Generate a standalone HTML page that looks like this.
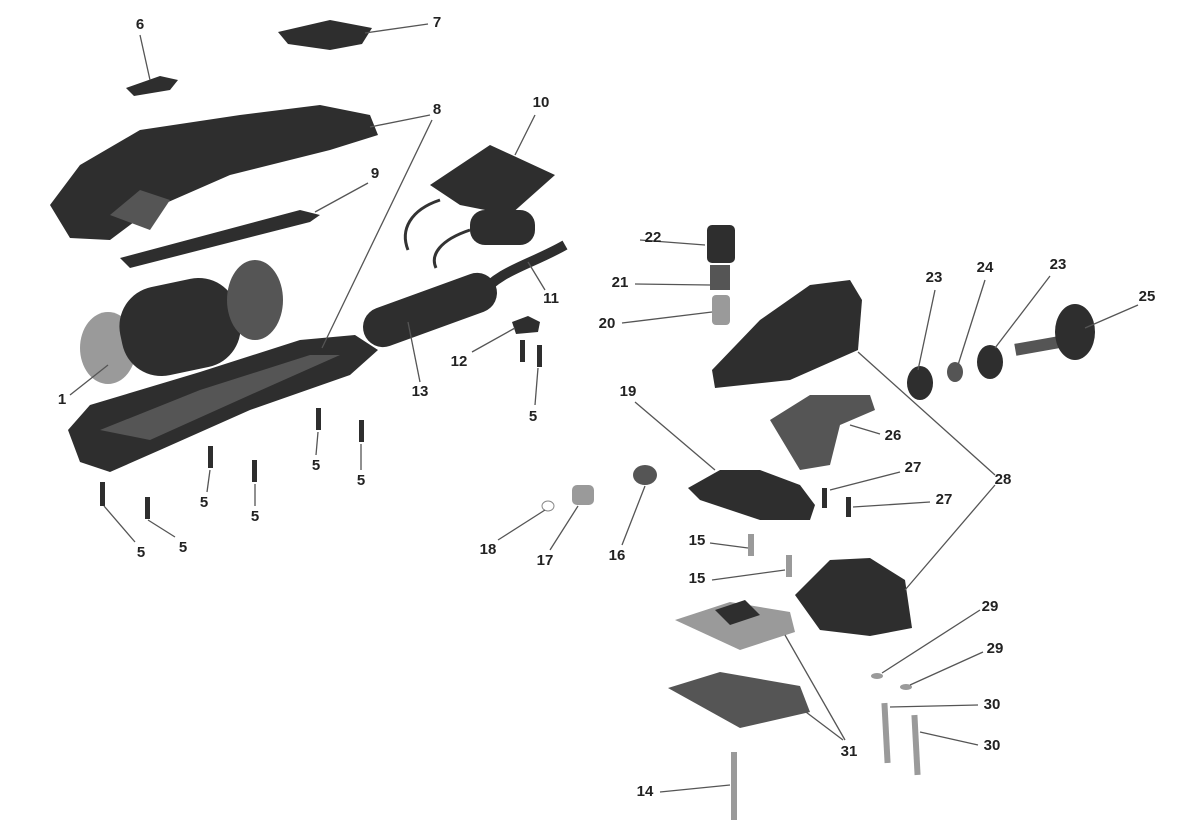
<!DOCTYPE html>
<html><head><meta charset="utf-8"><style>
html,body{margin:0;padding:0;background:#fff;}
svg{display:block}
text{font-family:"Liberation Sans",sans-serif;font-weight:bold;font-size:15px;fill:#222;text-anchor:middle;dominant-baseline:middle}
.l{stroke:#555;stroke-width:1.3;fill:none}
.d{fill:#2e2e2e}
.m{fill:#555}
.g{fill:#9a9a9a}
</style></head><body>
<svg width="1199" height="834" viewBox="0 0 1199 834" xmlns="http://www.w3.org/2000/svg">
<polygon class="d" points="126,88 160,76 178,80 170,90 134,96"/>
<polygon class="d" points="278,32 330,20 372,28 362,44 330,50 288,44"/>
<polygon class="d" points="50,205 80,165 140,130 240,115 320,105 370,115 378,135 330,150 230,175 150,210 110,240 70,238"/>
<polygon class="m" points="110,215 140,190 170,200 150,230"/>
<polygon class="d" points="120,258 300,210 320,215 310,222 130,268"/>
<polygon class="d" points="430,185 490,145 555,175 510,215 460,205"/>
<rect class="d" x="470" y="210" width="65" height="35" rx="15"/>
<path d="M440,200 C410,210 400,230 408,250" style="stroke:#333;stroke-width:3;fill:none"/>
<path d="M470,230 C440,240 430,255 436,268" style="stroke:#333;stroke-width:3;fill:none"/>
<path d="M480,295 C500,270 530,265 565,245" style="stroke:#2e2e2e;stroke-width:10;fill:none"/>
<ellipse class="g" cx="108" cy="348" rx="28" ry="36"/>
<rect class="d" x="120" y="282" width="120" height="90" rx="40" transform="rotate(-12 180 327)"/>
<ellipse class="m" cx="255" cy="300" rx="28" ry="40"/>
<rect class="d" x="360" y="290" width="140" height="40" rx="20" transform="rotate(-20 430 310)"/>
<polygon class="d" points="68,430 90,405 200,372 300,340 355,335 378,350 350,375 250,410 160,450 110,472 80,462"/>
<polygon class="m" points="100,430 200,390 310,355 340,355 250,395 150,440"/>
<g class="d">
<rect x="316" y="408" width="5" height="22"/><rect x="359" y="420" width="5" height="22"/>
<rect x="208" y="446" width="5" height="22"/><rect x="252" y="460" width="5" height="22"/>
<rect x="100" y="482" width="5" height="24"/><rect x="145" y="497" width="5" height="22"/>
<rect x="520" y="340" width="5" height="22"/><rect x="537" y="345" width="5" height="22"/>
</g>
<polygon class="d" points="512,322 528,316 540,322 538,332 516,334"/>
<rect class="d" x="707" y="225" width="28" height="38" rx="5"/>
<rect class="m" x="710" y="265" width="20" height="25"/>
<rect class="g" x="712" y="295" width="18" height="30" rx="4"/>
<polygon class="d" points="712,370 760,320 810,285 850,280 862,300 858,350 790,380 715,388"/>
<ellipse class="d" cx="920" cy="383" rx="13" ry="17"/>
<ellipse class="m" cx="955" cy="372" rx="8" ry="10"/>
<ellipse class="d" cx="990" cy="362" rx="13" ry="17"/>
<rect class="m" x="1015" y="340" width="45" height="12" transform="rotate(-10 1037 346)"/>
<ellipse class="d" cx="1075" cy="332" rx="20" ry="28"/>
<polygon class="m" points="770,420 810,395 870,395 875,410 840,425 830,465 800,470"/>
<polygon class="d" points="688,488 720,470 760,470 800,485 815,505 810,520 760,520 700,500"/>
<ellipse class="m" cx="645" cy="475" rx="12" ry="10"/>
<rect class="g" x="572" y="485" width="22" height="20" rx="5"/>
<ellipse cx="548" cy="506" rx="6" ry="5" style="fill:none;stroke:#888"/>
<rect class="d" x="822" y="488" width="5" height="20"/><rect class="d" x="846" y="497" width="5" height="20"/>
<rect class="g" x="748" y="534" width="6" height="22"/><rect class="g" x="786" y="555" width="6" height="22"/>
<polygon class="d" points="795,595 830,560 870,558 905,580 912,628 870,636 820,630"/>
<polygon class="g" points="675,620 730,602 790,612 795,632 740,650"/>
<polygon class="d" points="715,610 745,600 760,615 730,625"/>
<polygon class="m" points="668,688 720,672 800,686 810,712 740,728"/>
<ellipse class="g" cx="877" cy="676" rx="6" ry="3"/><ellipse class="g" cx="906" cy="687" rx="6" ry="3"/>
<rect class="g" x="883" y="703" width="6" height="60" transform="rotate(-3 886 733)"/>
<rect class="g" x="913" y="715" width="6" height="60" transform="rotate(-3 916 745)"/>
<rect class="g" x="731" y="752" width="6" height="68"/>
<g class="l">
<line x1="140" y1="35" x2="150" y2="80"/>
<line x1="428" y1="24" x2="365" y2="33"/>
<line x1="430" y1="115" x2="370" y2="127"/>
<line x1="432" y1="120" x2="322" y2="348"/>
<line x1="535" y1="115" x2="515" y2="155"/>
<line x1="368" y1="183" x2="315" y2="212"/>
<line x1="640" y1="240" x2="705" y2="245"/>
<line x1="635" y1="284" x2="710" y2="285"/>
<line x1="622" y1="323" x2="712" y2="312"/>
<line x1="545" y1="290" x2="528" y2="262"/>
<line x1="472" y1="352" x2="515" y2="328"/>
<line x1="420" y1="382" x2="408" y2="322"/>
<line x1="535" y1="405" x2="538" y2="368"/>
<line x1="70" y1="395" x2="108" y2="365"/>
<line x1="935" y1="290" x2="918" y2="370"/>
<line x1="985" y1="280" x2="958" y2="365"/>
<line x1="1050" y1="276" x2="995" y2="348"/>
<line x1="1138" y1="305" x2="1085" y2="328"/>
<line x1="635" y1="402" x2="715" y2="470"/>
<line x1="880" y1="434" x2="850" y2="425"/>
<line x1="900" y1="472" x2="830" y2="490"/>
<line x1="930" y1="502" x2="853" y2="507"/>
<line x1="995" y1="475" x2="858" y2="352"/>
<line x1="995" y1="485" x2="905" y2="590"/>
<line x1="316" y1="455" x2="318" y2="432"/>
<line x1="361" y1="470" x2="361" y2="444"/>
<line x1="207" y1="492" x2="210" y2="470"/>
<line x1="255" y1="506" x2="255" y2="484"/>
<line x1="135" y1="542" x2="104" y2="506"/>
<line x1="175" y1="537" x2="148" y2="520"/>
<line x1="498" y1="540" x2="545" y2="510"/>
<line x1="550" y1="550" x2="578" y2="506"/>
<line x1="622" y1="545" x2="645" y2="486"/>
<line x1="710" y1="543" x2="748" y2="548"/>
<line x1="712" y1="580" x2="785" y2="570"/>
<line x1="980" y1="610" x2="882" y2="673"/>
<line x1="983" y1="652" x2="910" y2="685"/>
<line x1="978" y1="705" x2="890" y2="707"/>
<line x1="978" y1="745" x2="920" y2="732"/>
<line x1="845" y1="740" x2="785" y2="635"/>
<line x1="843" y1="740" x2="790" y2="700"/>
<line x1="660" y1="792" x2="730" y2="785"/>
</g>
<text x="140" y="25">6</text><text x="437" y="23">7</text><text x="437" y="110">8</text>
<text x="541" y="103">10</text><text x="375" y="174">9</text><text x="653" y="238">22</text>
<text x="620" y="283">21</text><text x="607" y="324">20</text><text x="551" y="299">11</text>
<text x="459" y="362">12</text><text x="420" y="392">13</text><text x="533" y="417">5</text>
<text x="62" y="400">1</text><text x="934" y="278">23</text><text x="985" y="268">24</text>
<text x="1058" y="265">23</text><text x="1147" y="297">25</text><text x="628" y="392">19</text>
<text x="893" y="436">26</text><text x="913" y="468">27</text><text x="944" y="500">27</text>
<text x="1003" y="480">28</text><text x="316" y="466">5</text><text x="361" y="481">5</text>
<text x="204" y="503">5</text><text x="255" y="517">5</text><text x="141" y="553">5</text>
<text x="183" y="548">5</text><text x="488" y="550">18</text><text x="545" y="561">17</text>
<text x="617" y="556">16</text><text x="697" y="541">15</text><text x="697" y="579">15</text>
<text x="990" y="607">29</text><text x="995" y="649">29</text><text x="992" y="705">30</text>
<text x="992" y="746">30</text><text x="849" y="752">31</text><text x="645" y="792">14</text>
</svg>
</body></html>
